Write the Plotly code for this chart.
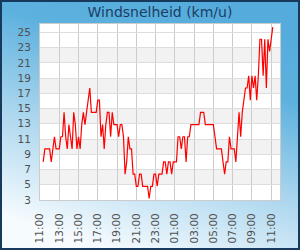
import base64
import pandas as pd
import plotly.graph_objects as go

title_text = "Windsnelheid (km/u)"
start_time = "2024-01-01 11:20"
interval = "10min"
wind_kmh = [
    8.0, 9.7, 9.7, 9.7,
    9.7, 8.0, 9.7, 11.3, 9.7, 9.7,
    9.7, 11.3, 11.3, 14.5, 11.3, 9.7,
    12.9, 11.3, 9.7, 14.5, 12.9, 9.7,
    11.3, 9.7, 12.9, 14.5, 12.9, 14.5,
    16.1, 17.7, 14.5, 14.5, 14.5, 14.5,
    16.1, 16.1, 11.3, 12.9, 9.7, 12.9,
    14.5, 14.5, 11.3, 14.5, 12.9, 12.9,
    12.9, 11.3, 12.9, 12.9, 11.3, 6.4,
    8.0, 11.3, 9.7, 9.7, 6.4, 6.4,
    4.8, 4.8, 6.4, 6.4, 4.8, 4.8,
    4.8, 4.8, 3.2, 4.8, 4.8, 6.4,
    6.4, 4.8, 6.4, 6.4, 6.4, 8.0,
    8.0, 6.4, 8.0, 8.0, 6.4, 8.0,
    8.0, 8.0, 11.3, 11.3, 9.7, 11.3,
    11.3, 8.0, 11.3, 11.3, 12.9, 12.9,
    12.9, 12.9, 12.9, 12.9, 14.5, 14.5,
    14.5, 12.9, 12.9, 12.9, 12.9, 12.9,
    12.9, 11.3, 9.7, 9.7, 9.7, 9.7,
    8.0, 6.4, 8.0, 8.0, 11.3, 9.7,
    9.7, 9.7, 8.0, 11.3, 14.5, 11.3,
    14.5, 16.1, 17.7, 17.7, 19.3, 16.1,
    19.3, 17.7, 19.3, 16.1, 19.3, 24.1,
    24.1, 19.3, 24.1, 17.7, 24.1, 22.5,
    24.1, 25.7,
]
x_range = ["2024-01-01 11:00", "2024-01-02 11:55"]
y_range = [3, 26.1]
y_ticks = list(range(3, 26, 2))
band_pairs = [(5, 7), (9, 11), (13, 15), (17, 19), (21, 23)]

times = pd.date_range(start=start_time, periods=len(wind_kmh), freq=interval)

W, H = 300, 250
L, R, T, B = 40, 20, 24, 50
pw, ph = W - L - R, H - T - B

svg = f'''<svg xmlns="http://www.w3.org/2000/svg" width="{W}" height="{H}" viewBox="0 0 {W} {H}">
<defs><linearGradient id="g" gradientUnits="userSpaceOnUse" x1="190" y1="0" x2="110" y2="250">
<stop offset="0" stop-color="#55acdc"/><stop offset="0.25" stop-color="#5db1de"/>
<stop offset="0.6" stop-color="#a9d5ee"/><stop offset="1" stop-color="#f6fbfe"/></linearGradient></defs>
<rect x="0" y="0" width="{W}" height="{H}" fill="url(#g)"/>
<rect x="1" y="1" width="{W-2}" height="{H-2}" fill="none" stroke="#17395c" stroke-width="2"/>
</svg>'''
src = "data:image/svg+xml;base64," + base64.b64encode(svg.encode()).decode()

fig = go.Figure()
fig.add_trace(go.Scatter(x=times, y=wind_kmh, mode="lines",
                         line=dict(color="#ff0000", width=1.2), hoverinfo="skip"))

shapes = [dict(type="rect", xref="paper", yref="paper", x0=0, x1=1, y0=0, y1=1,
               fillcolor="white", line=dict(width=0), layer="below")]
for a, b in band_pairs:
    shapes.append(dict(type="rect", xref="paper", yref="y", x0=0, x1=1, y0=a, y1=b,
                       fillcolor="#f2f2f2", line=dict(width=0), layer="below"))

fig.update_layout(
    template="none",
    width=W, height=H,
    margin=dict(l=L, r=R, t=T, b=B, autoexpand=False),
    paper_bgcolor="white", plot_bgcolor="white",
    showlegend=False,
    images=[dict(source=src, xref="paper", yref="paper",
                 x=-L / pw, y=1 + T / ph, sizex=W / pw, sizey=H / ph,
                 xanchor="left", yanchor="top", sizing="stretch", layer="below")],
    shapes=shapes,
    title=dict(text=title_text, x=0.5, xref="paper", xanchor="center",
               y=1 - 12 / H, yref="container", yanchor="middle",
               font=dict(family="DejaVu Sans", size=14, color="#1c3d63")),
    font=dict(family="DejaVu Sans", size=10.5, color="#505050"),
)
fig.update_xaxes(type="date", range=x_range, dtick=2 * 3600 * 1000,
                 tick0="2024-01-01 11:00", tickformat="%H:%M", tickangle=-90,
                 showgrid=True, gridcolor="#cccccc", gridwidth=1,
                 showline=True, linecolor="#cccccc", mirror=True,
                 ticks="outside", ticklen=8, tickcolor="rgba(0,0,0,0)",
                 zeroline=False, fixedrange=True, automargin=False)
fig.update_yaxes(range=y_range, tickvals=y_ticks,
                 showgrid=True, gridcolor="#dddddd", gridwidth=1,
                 showline=True, linecolor="#cccccc", mirror=True,
                 ticks="outside", ticklen=6, tickcolor="rgba(0,0,0,0)",
                 zeroline=False, fixedrange=True, automargin=False)

fig.write_html("out.html")
